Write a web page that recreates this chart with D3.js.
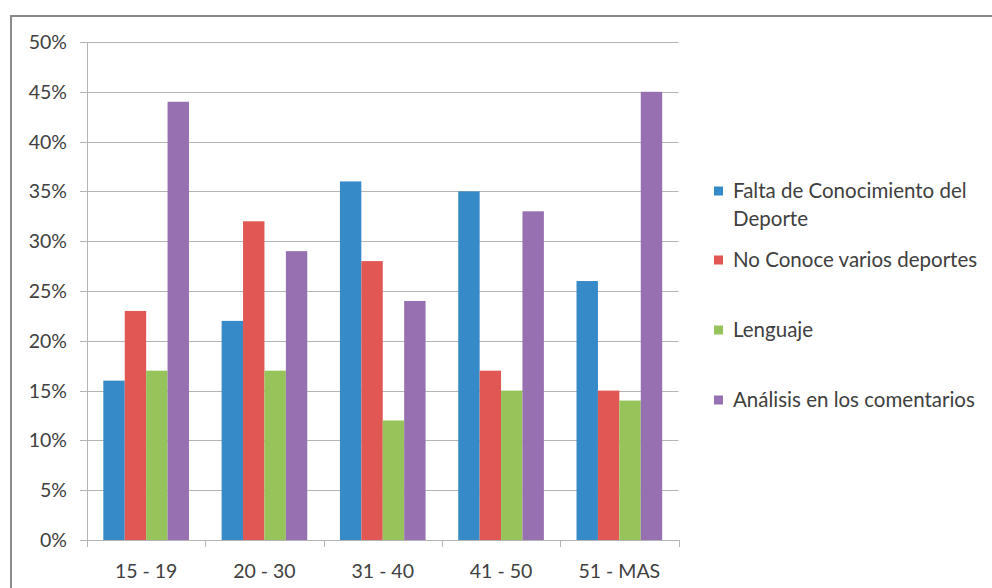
<!DOCTYPE html>
<html>
<head>
<meta charset="utf-8">
<script src="https://cdn.jsdelivr.net/npm/d3@7"></script>
<style>
  html, body { margin: 0; padding: 0; background: #fff; }
  svg { display: block; }
</style>
</head>
<body>
<svg id="chart" width="992" height="588"></svg>
<script>
// Age groups and the share of answers per reason
const categories = ["15 - 19", "20 - 30", "31 - 40", "41 - 50", "51 - MAS"];
const seriesNames = [
  "Falta de Conocimiento del Deporte",
  "No Conoce varios deportes",
  "Lenguaje",
  "Análisis en los comentarios"
];
const falta     = [16, 22, 36, 35, 26];
const noConoce  = [23, 32, 28, 17, 15];
const lenguaje  = [17, 17, 12, 15, 14];
const analisis  = [44, 29, 24, 33, 45];
const yTicks = [0, 5, 10, 15, 20, 25, 30, 35, 40, 45, 50];
const colors = ["#368ac7", "#e05753", "#97c35b", "#9670b0"];

const seriesValues = [falta, noConoce, lenguaje, analisis];

const svg = d3.select("#chart");
const font = "Lato, 'Liberation Sans', sans-serif";

// outer frame, open to the right and bottom
svg.append("path")
  .attr("d", "M11,600 L11,16 L1000,16")
  .attr("fill", "none")
  .attr("stroke", "#8a8a8a")
  .attr("stroke-width", 2);

const plotLeft = 87, plotRight = 678.5, plotTop = 42, plotBottom = 540;

const y = d3.scaleLinear().domain([0, 50]).range([plotBottom, plotTop]);
const x0 = d3.scaleBand().domain(categories).range([plotLeft, plotRight]).padding(0);
const x1 = d3.scaleBand().domain(d3.range(seriesNames.length))
  .range([x0.bandwidth() * 0.138, x0.bandwidth() * 0.862]).padding(0);

// horizontal gridlines
svg.append("g")
  .selectAll("line")
  .data(yTicks)
  .join("line")
  .attr("x1", plotLeft - 7).attr("x2", plotRight)
  .attr("y1", d => Math.round(y(d)) + 0.5).attr("y2", d => Math.round(y(d)) + 0.5)
  .attr("stroke", "#b4b4b4").attr("stroke-width", 1);

// y axis line
svg.append("line")
  .attr("x1", plotLeft + 0.5).attr("x2", plotLeft + 0.5)
  .attr("y1", plotTop).attr("y2", plotBottom)
  .attr("stroke", "#b4b4b4");

// bars
const groups = svg.append("g")
  .selectAll("g")
  .data(categories)
  .join("g")
  .attr("transform", d => `translate(${x0(d)},0)`);

groups.selectAll("rect")
  .data((d, i) => seriesValues.map((vals, s) => ({ s, v: vals[i] })))
  .join("rect")
  .attr("x", d => x1(d.s))
  .attr("width", x1.bandwidth())
  .attr("y", d => y(d.v))
  .attr("height", d => y(0) - y(d.v))
  .attr("fill", d => colors[d.s]);

// x axis baseline and category ticks
svg.append("line")
  .attr("x1", plotLeft).attr("x2", plotRight)
  .attr("y1", Math.round(y(0)) + 0.5).attr("y2", Math.round(y(0)) + 0.5)
  .attr("stroke", "#b4b4b4");

const boundaries = categories.map(c => x0(c)).concat([plotRight]);
svg.append("g")
  .selectAll("line")
  .data(boundaries)
  .join("line")
  .attr("x1", d => Math.round(d) + 0.5).attr("x2", d => Math.round(d) + 0.5)
  .attr("y1", plotBottom).attr("y2", plotBottom + 7)
  .attr("stroke", "#b4b4b4");

// y tick labels
svg.append("g")
  .selectAll("text")
  .data(yTicks)
  .join("text")
  .attr("x", 67)
  .attr("y", d => y(d))
  .attr("dy", "0.36em")
  .attr("text-anchor", "end")
  .attr("font-family", font)
  .attr("font-size", 19.5)
  .attr("fill", "#404040")
  .text(d => d + "%");

// x tick labels
svg.append("g")
  .selectAll("text")
  .data(categories)
  .join("text")
  .attr("x", d => x0(d) + x0.bandwidth() / 2)
  .attr("y", 578)
  .attr("text-anchor", "middle")
  .attr("font-family", font)
  .attr("font-size", 19.5)
  .attr("fill", "#404040")
  .text(d => d);

// legend
const legendRows = [
  { lines: ["Falta de Conocimiento del", "Deporte"], y: 191 },
  { lines: ["No Conoce varios deportes"], y: 260 },
  { lines: ["Lenguaje"], y: 330 },
  { lines: ["Análisis en los comentarios"], y: 400 }
];
const legend = svg.append("g");
legendRows.forEach((row, i) => {
  legend.append("rect")
    .attr("x", 714).attr("y", row.y - 4.5)
    .attr("width", 9).attr("height", 9)
    .attr("fill", colors[i]);
  row.lines.forEach((line, j) => {
    legend.append("text")
      .attr("x", 733)
      .attr("y", row.y + j * 28)
      .attr("dy", "0.36em")
      .attr("font-family", font)
      .attr("font-size", 20.5)
      .attr("fill", "#404040")
      .text(line);
  });
});
</script>
</body>
</html>
